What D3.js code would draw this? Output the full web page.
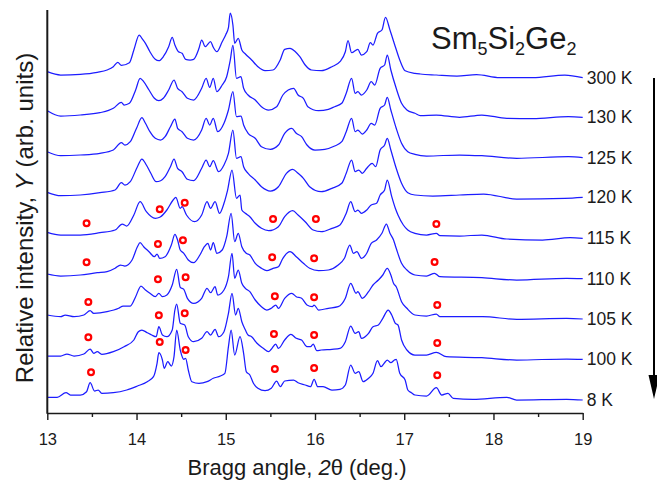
<!DOCTYPE html>
<html>
<head>
<meta charset="utf-8">
<script src="https://d3js.org/d3.v7.min.js"></script>
<title>Sm5Si2Ge2 diffraction</title>
<style>
  body { margin: 0; background: #fff; }
  svg { display: block; font-family: "Liberation Sans", Arial, Helvetica, sans-serif; }
  .axis path, .axis line { stroke: #1a1a1a; }
  .axis text { fill: #1a1a1a; font-size: 16.5px; font-family: "Liberation Sans", Arial, sans-serif; }
</style>
</head>
<body>
<div id="chart"></div>
<script>
// temperatures, bottom scan first
const labels = ["8 K", "100 K", "105 K", "110 K", "115 K", "120 K", "125 K", "130 K", "300 K"];
// vertical shift of each scan (arb. units)
const offsets = [13, 53.7, 94, 134.3, 174.7, 215.7, 255.3, 295.7, 335.3];
const xTicks = [13, 14, 15, 16, 17, 18, 19];
const xMinor = [13.5, 14.5, 15.5, 16.5, 17.5, 18.5];

// [2theta, intensity above scan baseline]
const scan8K = [[13.00,2.7],[13.11,2.7],[13.21,7.3],[13.26,5],[13.37,5],[13.44,8.3],[13.48,17.3],[13.53,9],[13.57,10],[13.61,6.7],[13.74,7.3],[13.89,10],[14.01,14],[14.12,18.3],[14.19,23.3],[14.23,36.7],[14.25,47.3],[14.29,40],[14.31,31.7],[14.35,38.3],[14.39,34],[14.42,43.3],[14.45,70],[14.49,50],[14.53,40.7],[14.55,41.7],[14.58,30],[14.62,18.3],[14.70,16.7],[14.79,18.3],[14.86,21.7],[14.94,24],[14.99,26.7],[15.03,53.3],[15.06,70],[15.10,45],[15.16,63.3],[15.20,46.7],[15.23,28.3],[15.27,25],[15.31,16.7],[15.36,11.7],[15.44,9.3],[15.51,11.7],[15.57,19],[15.61,13.3],[15.66,19],[15.76,20],[15.81,17.3],[15.89,15],[15.95,13.3],[15.99,20.7],[16.03,13.3],[16.09,13.3],[16.19,10],[16.28,10.7],[16.34,15],[16.40,35],[16.45,26.7],[16.49,28.3],[16.54,18.3],[16.60,21.7],[16.65,26.7],[16.70,39.3],[16.74,33.3],[16.78,37.3],[16.81,40],[16.85,37.3],[16.89,40],[16.91,40.7],[16.95,26.7],[17.01,20],[17.04,10],[17.08,7.3],[17.12,5],[17.25,4],[17.36,12.3],[17.42,5],[17.49,6.7],[17.55,1.7],[17.77,0.7],[18.15,2.7],[18.26,0],[18.82,0.7],[19.00,0]];
const scan100K = [[13.00,3.3],[13.15,3.3],[13.22,5.3],[13.30,3.3],[13.41,5.3],[13.48,10.3],[13.52,6],[13.56,7.6],[13.61,5],[13.74,7.6],[13.86,12.6],[13.97,19.3],[14.02,27.6],[14.06,29.3],[14.12,26.6],[14.17,24.3],[14.22,22.6],[14.25,32.6],[14.29,24.3],[14.34,22.6],[14.40,29.3],[14.43,49.3],[14.45,55.3],[14.49,36],[14.54,34.3],[14.58,22.6],[14.64,17.6],[14.73,21],[14.79,27.6],[14.83,24.3],[14.88,30],[14.92,22.6],[14.98,27.6],[15.03,46],[15.07,66],[15.11,44.3],[15.14,51],[15.18,37.6],[15.22,29.3],[15.25,24.3],[15.29,22.6],[15.35,16],[15.42,11],[15.48,7.6],[15.51,10],[15.56,15.3],[15.59,11],[15.66,19.3],[15.73,25],[15.79,21],[15.85,19.3],[15.91,12.6],[15.95,12.6],[15.98,15.3],[16.02,8.6],[16.07,9.3],[16.19,10],[16.28,11],[16.34,17.6],[16.40,33.3],[16.45,26],[16.49,27.6],[16.52,21],[16.60,26],[16.65,32.6],[16.71,34.3],[16.76,41],[16.82,49.3],[16.86,44.3],[16.90,36],[16.93,34.3],[16.97,19.3],[17.03,9.3],[17.12,4.3],[17.25,4.3],[17.36,7],[17.47,2.6],[17.87,1.6],[18.26,-0.7],[18.82,0.3],[19.00,0]];
const scan105K = [[13.00,4],[13.15,2.3],[13.20,4],[13.30,2.3],[13.41,4],[13.48,8.3],[13.52,5.7],[13.67,7.3],[13.80,10.7],[13.85,13],[13.93,13],[13.99,22.3],[14.05,33],[14.10,29],[14.15,25.7],[14.21,22.3],[14.25,25.7],[14.29,22.3],[14.34,24],[14.40,34],[14.45,49.7],[14.49,31.7],[14.53,29.7],[14.57,20.7],[14.64,15.7],[14.73,20.7],[14.79,30.7],[14.83,26.3],[14.88,32.3],[14.91,24],[14.98,29],[15.03,42.3],[15.07,65.7],[15.10,40.7],[15.14,49],[15.18,35.7],[15.22,30.7],[15.27,27.3],[15.33,19],[15.40,12.3],[15.46,9],[15.51,10.7],[15.56,14],[15.59,10.7],[15.66,20.7],[15.74,25.7],[15.79,22.3],[15.85,20.7],[15.91,14],[15.97,12.3],[15.99,14],[16.04,9],[16.15,10.7],[16.26,12.3],[16.34,20.7],[16.40,35.7],[16.46,25.7],[16.48,27.3],[16.53,20.7],[16.60,27.3],[16.65,34],[16.71,39],[16.76,44],[16.81,50.7],[16.85,44],[16.88,35.7],[16.91,32.3],[16.97,17.3],[17.03,10.7],[17.12,4],[17.25,3],[17.36,5],[17.40,2.3],[17.88,2.3],[18.26,-0.3],[18.82,0.6],[19.00,0]];
const scan110K = [[13.00,4.7],[13.15,2.7],[13.37,3.7],[13.56,6],[13.67,7],[13.76,10.4],[13.82,13.7],[13.87,12.7],[13.95,18.7],[14.01,32],[14.04,36],[14.08,32],[14.14,27],[14.20,22],[14.23,24.7],[14.26,20.4],[14.32,22],[14.39,33.7],[14.43,44.4],[14.46,38.7],[14.49,28.7],[14.53,25.4],[14.58,18.7],[14.64,16],[14.71,23.7],[14.76,32],[14.80,35.4],[14.83,28.7],[14.86,36],[14.90,25.4],[14.96,28.7],[15.01,42],[15.06,65.4],[15.10,37],[15.14,45.4],[15.18,32],[15.23,25.4],[15.27,23.7],[15.33,15.4],[15.40,10.4],[15.46,8],[15.53,10.4],[15.59,12],[15.64,20.4],[15.72,27],[15.79,22],[15.87,15.4],[15.94,10.4],[16.04,8],[16.15,8.7],[16.26,13.7],[16.33,20.4],[16.39,33.7],[16.43,25.4],[16.47,27],[16.52,20.4],[16.58,25.4],[16.63,35.4],[16.69,38.7],[16.75,45.4],[16.80,54.7],[16.84,45.4],[16.88,38.7],[16.91,30.4],[16.97,15.4],[17.03,8.7],[17.12,3.7],[17.25,2.7],[17.34,5.4],[17.40,2],[17.87,1],[18.26,-1.3],[18.82,0.4],[19.00,0]];
const scan115K = [[13.00,6],[13.15,3.3],[13.37,3.3],[13.59,5.6],[13.76,8.3],[13.84,14.3],[13.89,12.3],[13.97,23.3],[14.04,36.6],[14.11,26.6],[14.21,20],[14.26,21],[14.34,28.3],[14.41,38.3],[14.44,41],[14.49,30],[14.51,31.6],[14.56,23.3],[14.65,16.6],[14.73,23.3],[14.79,36.6],[14.83,30],[14.88,36.6],[14.93,25],[14.98,35],[15.02,48],[15.07,68.3],[15.12,40],[15.16,43.3],[15.18,28.3],[15.22,25],[15.27,21.6],[15.33,15],[15.40,10],[15.48,7.6],[15.59,11.6],[15.66,21.6],[15.75,27.6],[15.81,23.3],[15.89,16.6],[15.98,8.3],[16.07,6.6],[16.19,10],[16.28,13.3],[16.35,25],[16.40,36.6],[16.45,26.6],[16.48,28.3],[16.52,25],[16.58,28.3],[16.63,33.3],[16.69,35],[16.73,43.3],[16.78,48.3],[16.81,58.3],[16.86,41.6],[16.90,30],[16.93,23.3],[16.99,13.3],[17.04,8.3],[17.12,5],[17.25,3.3],[17.36,5],[17.40,2.7],[17.62,2.3],[17.87,3.3],[18.15,-0.7],[18.55,-1.7],[18.86,0.6],[19.00,0]];
const scan120K = [[13.00,5],[13.15,1.6],[13.37,2.3],[13.59,4.6],[13.76,7.3],[13.83,14.6],[13.87,12.3],[13.93,15.6],[14.01,30.6],[14.06,38.3],[14.11,32.3],[14.16,24],[14.22,15.6],[14.27,16.6],[14.32,20.6],[14.38,30.6],[14.42,38.3],[14.46,29],[14.51,25.6],[14.57,18],[14.64,16.6],[14.73,29],[14.78,37.3],[14.82,30.6],[14.86,36.6],[14.92,25.6],[14.98,32.3],[15.03,44],[15.08,67.3],[15.12,39],[15.17,40.6],[15.20,30.6],[15.25,24],[15.33,17.3],[15.40,10.6],[15.50,6.3],[15.59,10.6],[15.68,24],[15.75,28],[15.81,24],[15.87,19],[15.94,10.6],[16.07,5.6],[16.19,9],[16.30,14],[16.35,24],[16.41,37.3],[16.45,25.6],[16.49,27.3],[16.53,24],[16.58,29],[16.64,34],[16.68,30.6],[16.73,47.3],[16.78,52.3],[16.81,59],[16.85,47.3],[16.91,29],[16.97,14],[17.04,4.6],[17.12,2.3],[17.32,1.3],[17.62,2.3],[17.89,3.3],[18.26,-1.7],[18.80,-1],[19.00,0]];
const scan125K = [[13.00,6],[13.15,2],[13.37,2.7],[13.59,4.4],[13.74,7.7],[13.83,15],[13.87,12.7],[13.93,16],[14.00,29.4],[14.06,40],[14.10,34.4],[14.15,26],[14.21,19.4],[14.27,17.7],[14.32,21],[14.38,31],[14.43,38.7],[14.46,29.4],[14.51,26],[14.57,19.4],[14.64,17.7],[14.73,27.7],[14.78,39.4],[14.82,32.7],[14.86,39.4],[14.91,26],[14.98,34.4],[15.03,47.7],[15.08,66],[15.12,41],[15.17,41.7],[15.20,32.7],[15.25,24.4],[15.33,19.4],[15.40,11],[15.50,8.4],[15.59,12.7],[15.66,24.4],[15.74,29.4],[15.79,24.4],[15.85,21],[15.91,12.7],[16.00,7.7],[16.11,8.4],[16.22,11.7],[16.30,16],[16.35,26],[16.41,39.4],[16.45,26],[16.48,27.7],[16.53,23.7],[16.58,27.7],[16.63,34.4],[16.67,32.7],[16.73,49.4],[16.78,52.7],[16.81,60.4],[16.85,47.7],[16.91,29.4],[16.97,14.4],[17.04,6],[17.12,3.4],[17.25,1.7],[17.62,2.7],[17.87,2],[18.26,-0.6],[18.84,1],[19.00,0]];
const scan130K = [[13.00,6.6],[13.15,1.3],[13.37,2.3],[13.59,4.6],[13.74,9],[13.83,15],[13.86,12.3],[13.92,14],[13.99,27.3],[14.04,39],[14.08,35.6],[14.14,27.3],[14.20,19],[14.25,16.6],[14.30,19],[14.36,27.3],[14.42,37.3],[14.46,29],[14.51,25.6],[14.57,19],[14.64,17.3],[14.73,29],[14.78,39],[14.82,30],[14.86,39],[14.90,25.6],[14.96,32.3],[15.01,40.6],[15.05,57],[15.08,72],[15.12,39],[15.17,40.6],[15.20,29],[15.25,22.3],[15.33,17.3],[15.40,10.6],[15.48,7.3],[15.57,10.6],[15.64,22.3],[15.70,27.3],[15.76,29],[15.81,22.3],[15.87,19],[15.92,10.6],[16.04,6.6],[16.15,8],[16.22,10.6],[16.30,14],[16.35,24],[16.41,39],[16.45,24],[16.48,25.6],[16.52,22.3],[16.58,27.3],[16.63,35.6],[16.67,32.3],[16.73,49],[16.78,52.3],[16.81,62.3],[16.85,47.3],[16.91,29],[16.97,14],[17.03,7.3],[17.12,4],[17.18,1.6],[17.36,2.3],[17.62,0],[17.87,2.3],[18.15,-1],[18.44,-1.3],[18.84,0.6],[19.00,0]];
const scan300K = [[13.00,6],[13.15,2.7],[13.37,3.4],[13.56,5.4],[13.67,7.7],[13.74,11],[13.79,15.4],[13.83,12.4],[13.92,15],[13.97,27.7],[14.03,42.7],[14.06,39.4],[14.10,34.4],[14.15,26],[14.21,18.4],[14.25,17],[14.30,21],[14.36,31],[14.40,40.4],[14.43,32.7],[14.47,26],[14.51,24.4],[14.55,18.4],[14.60,17.7],[14.64,18.4],[14.70,29.4],[14.73,37.7],[14.77,31],[14.83,36],[14.86,30.4],[14.90,26],[14.96,36],[15.00,43],[15.03,50],[15.05,64.5],[15.08,52.7],[15.10,34.4],[15.14,39.4],[15.18,27.7],[15.22,23.7],[15.29,17.7],[15.36,11],[15.44,7],[15.53,7.7],[15.61,17.7],[15.66,28.4],[15.72,29.4],[15.78,26],[15.83,21],[15.89,12.7],[15.96,7.7],[16.07,7],[16.19,11],[16.28,16],[16.34,26],[16.37,37],[16.41,25],[16.48,28.4],[16.52,22.7],[16.58,26],[16.62,35],[16.65,32.7],[16.70,44.4],[16.75,47.7],[16.79,60.4],[16.84,47.7],[16.90,31],[16.95,17.7],[17.01,7],[17.12,4.4],[17.18,3.7],[17.36,2.7],[17.59,1.7],[17.81,3],[18.07,0],[18.44,0],[18.80,2.6],[19.00,0]];
const scans = [scan8K, scan100K, scan105K, scan110K, scan115K, scan120K, scan125K, scan130K, scan300K];

// open-circle reflections of the second phase, [2theta, height above baseline]
const marks8K   = [[13.49,27.7],[14.26,58],[14.55,50],[15.55,31],[15.99,32],[17.37,24.7]];
const marks100K = [[13.46,22],[14.25,44],[14.54,46],[15.54,25.3],[15.99,24.3],[17.37,16.3]];
const marks105K = [[13.46,17],[14.24,39.7],[14.55,41.7],[15.55,22.7],[15.99,21.7],[17.37,14]];
const marks110K = [[13.44,16.4],[14.24,34.7],[14.52,38.4],[15.52,21.4],[15.99,20.4],[17.34,16.7]];
const marks115K = [[13.44,15],[14.26,29],[14.54,35.6],[15.53,19.3],[16.01,19.3],[17.36,14.3]];
const marks = [marks8K, marks100K, marks105K, marks110K, marks115K];

const width = 657, height = 487;

const svg = d3.select("#chart")
    .append("svg")
    .attr("width", width)
    .attr("height", height);

const x = d3.scaleLinear().domain([13, 19]).range([47.3, 582.7]);
const y = d3.scaleLinear().domain([0, 403]).range([413, 10]);

const line = (off) => d3.line()
    .x(d => x(d[0]))
    .y(d => y(d[1] + off))
    .curve(d3.curveMonotoneX);

// scans
svg.append("g")
    .selectAll("path")
    .data(scans)
    .enter()
    .append("path")
    .attr("d", (d, i) => line(offsets[i])(d))
    .attr("fill", "none")
    .attr("stroke", "#1c1cff")
    .attr("stroke-width", 1.25)
    .attr("stroke-linejoin", "round");

// red circles
marks.forEach((m, i) => {
    svg.append("g")
        .selectAll("circle")
        .data(m)
        .enter()
        .append("circle")
        .attr("cx", d => x(d[0]))
        .attr("cy", d => y(d[1] + offsets[i]))
        .attr("r", 2.9)
        .attr("fill", "none")
        .attr("stroke", "#ff0000")
        .attr("stroke-width", 2.2);
});

// axes
const xAxis = svg.append("g")
    .attr("class", "axis")
    .attr("transform", `translate(0,${y(0)})`)
    .call(d3.axisBottom(x).tickValues(xTicks).tickSize(7).tickSizeOuter(0).tickPadding(13).tickFormat(d3.format("d")));
xAxis.select(".domain").attr("stroke-width", 1.6);
xAxis.selectAll(".tick line").attr("stroke-width", 1.4);

svg.append("g")
    .attr("class", "axis")
    .attr("transform", `translate(0,${y(0)})`)
    .call(d3.axisBottom(x).tickValues(xMinor).tickSize(4).tickFormat(""))
    .call(g => g.select(".domain").remove())
    .selectAll(".tick line").attr("stroke-width", 1.4);

svg.append("line")
    .attr("x1", x(13)).attr("x2", x(13))
    .attr("y1", y(0) + 0.8).attr("y2", y(403))
    .attr("stroke", "#1a1a1a")
    .attr("stroke-width", 2);

// temperature labels
svg.append("g")
    .selectAll("text")
    .data(labels)
    .enter()
    .append("text")
    .attr("x", x(19) + 4)
    .attr("y", (d, i) => y(offsets[i]) + 6)
    .attr("font-size", 17.5)
    .attr("fill", "#1a1a1a")
    .text(d => d);

// cooling arrow
svg.append("line")
    .attr("x1", 654).attr("x2", 654)
    .attr("y1", 78).attr("y2", 378)
    .attr("stroke", "#000")
    .attr("stroke-width", 2);
svg.append("path")
    .attr("d", "M648.5,375 L659.5,375 L654,399 Z")
    .attr("fill", "#000");

// compound
const title = svg.append("text")
    .attr("x", 431)
    .attr("y", 49)
    .attr("font-size", 31)
    .attr("fill", "#1a1a1a");
[["Sm", false], ["5", true], ["Si", false], ["2", true], ["Ge", false], ["2", true]].forEach(p => {
    title.append("tspan")
        .attr("font-size", p[1] ? 18 : 31)
        .attr("dy", p[1] ? 6 : -6)
        .text(p[0]);
});
title.select("tspan").attr("dy", 0);

// axis titles
const xl = svg.append("text")
    .attr("x", 297)
    .attr("y", 475)
    .attr("text-anchor", "middle")
    .attr("font-size", 22)
    .attr("fill", "#1a1a1a");
xl.append("tspan").text("Bragg angle, ");
xl.append("tspan").attr("font-style", "italic").text("2");
xl.append("tspan").text("θ (deg.)");

const yl = svg.append("text")
    .attr("transform", "translate(33,218) rotate(-90)")
    .attr("text-anchor", "middle")
    .attr("font-size", 24)
    .attr("fill", "#1a1a1a");
yl.append("tspan").text("Relative intensity, ");
yl.append("tspan").attr("font-style", "italic").text("Y");
yl.append("tspan").text(" (arb. units)");
</script>
</body>
</html>
